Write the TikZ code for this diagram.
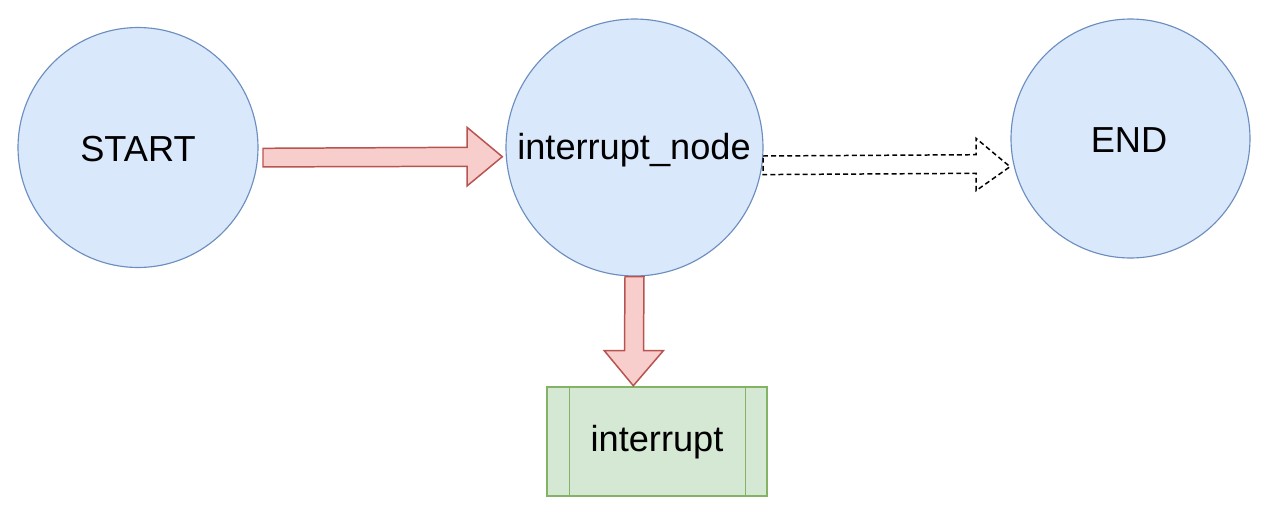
\documentclass[tikz,border=0pt]{standalone}
\usepackage{fontspec}
\setmainfont{Liberation Sans}
\definecolor{bfill}{HTML}{DAE8FC}
\definecolor{bdraw}{HTML}{6C8EBF}
\definecolor{rfill}{HTML}{F8CECC}
\definecolor{rdraw}{HTML}{B85450}
\definecolor{gfill}{HTML}{D5E8D4}
\definecolor{gdraw}{HTML}{82B366}
\tikzset{
  state/.style={circle, draw=bdraw, fill=bfill, line width=0.65pt, inner sep=0pt},
  lbl/.style={font=\fontsize{20.6}{24}\selectfont, inner sep=0pt},
  blockarrow/.style={draw=rdraw, fill=rfill, line width=0.85pt, line join=miter},
  dasharrow/.style={draw=black, line width=0.85pt, dash pattern=on 2.8pt off 1.8pt},
  procbox/.style={draw=gdraw, fill=gfill, line width=0.85pt}
}
\begin{document}
\begin{tikzpicture}[x=0.02cm, y=-0.02cm]
\useasboundingbox (0,0) rectangle (1269,518);
% circles
\node[state, minimum size=4.8cm] (start) at (138,147.5) {};
\node[state, minimum size=5.14cm] (inode) at (634.5,147.5) {};
\node[state, minimum size=4.78cm] (end) at (1130.5,138.5) {};
\node[lbl] (starttext) at (138,149) {START};
\node[lbl] (inodetext) at (634,150) {interrupt\_node};
\node[lbl] (endtext) at (1129,140) {END};
% interrupt box
\draw[procbox] (547,387) rectangle (767,496);
\draw[procbox] (569.5,387) -- (569.5,496) (745.5,387) -- (745.5,496);
\node[lbl] (itext) at (657,442) {interrupt};
% block arrow START -> interrupt_node
\draw[blockarrow] (263,148.3) -- (467,147.3) -- (467,127.3) -- (502.3,156.7)
  -- (467,186) -- (467,166.3) -- (263,166.9) -- cycle;
% dashed arrow interrupt_node -> END
\draw[dasharrow] (763,156) -- (976,154.7) -- (976,138.3) -- (1010,166.7)
  -- (976,190.7) -- (976,173.3) -- (763,174.6) -- cycle;
% down arrow interrupt_node -> interrupt
\draw[blockarrow] (625,276.7) -- (644,276.7) -- (643.5,350.7) -- (663.3,350.7)
  -- (633.3,385.7) -- (604.3,350.7) -- (624.5,350.7) -- cycle;
\end{tikzpicture}
\end{document}
